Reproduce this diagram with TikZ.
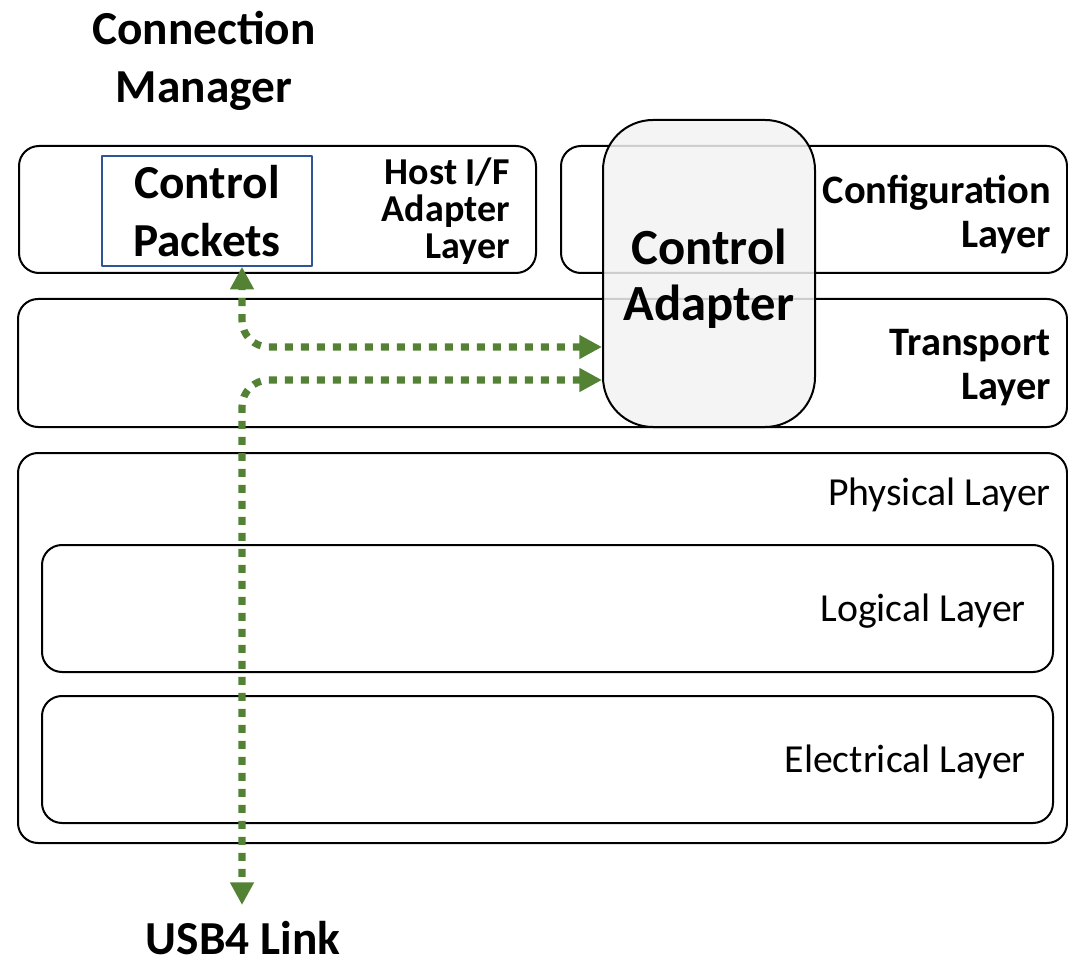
\documentclass[tikz,border=0pt]{standalone}
\usepackage{fontspec}
\setmainfont{Carlito}
\usetikzlibrary{arrows.meta}

\definecolor{linkgreen}{HTML}{548235}
\definecolor{pktblue}{HTML}{2F5597}
\definecolor{adaptergray}{HTML}{F2F2F2}

\begin{document}
\begin{tikzpicture}[
    x=0.75pt, y=-0.75pt,  % one unit = one pixel of the reference
    line join=round,
    every node/.style={
      inner sep=0pt
    },
    layerbox/.style={draw, line width=1.5pt, rounded corners=15pt},
    layerlbl/.style={font=\fontsize{29.8}{33}\selectfont, anchor=base east},
    boldlbl/.style={font=\fontsize{30.3}{33}\selectfont\bfseries, align=right, anchor=east},
    biglbl/.style={font=\fontsize{35.5}{43}\selectfont\bfseries, align=center},
    linkarrow/.style={draw=linkgreen, line width=5.4pt, line cap=butt,
      dash pattern=on 6pt off 6pt, rounded corners=20pt,
      {Triangle[width=17pt,length=17pt]}-{Triangle[width=17pt,length=17pt]}}
]
\useasboundingbox (0,0) rectangle (1068,966);

% top row
\draw[layerbox] (19,146) rectangle (536,273);
\node[draw=pktblue, line width=1.1pt, minimum width={210*0.75pt}, minimum height={110*0.75pt},
      biglbl] (cpk) at (207,211) {Control\\Packets};
\node[boldlbl, font=\fontsize{28.5}{27.75}\selectfont\bfseries] (hostif) at (510,211) {Host I/F\\Adapter\\Layer};

\draw[layerbox] (561,146) rectangle (1067,273);
\node[boldlbl] (config) at (1051,214) {Configuration\\Layer};

% transport
\draw[layerbox] (18,299) rectangle (1067,427);
\node[boldlbl] (transport) at (1051,368) {Transport\\Layer};

% physical with its two sublayers
\draw[layerbox] (18,453) rectangle (1067,843);
\node[layerlbl] (phys) at (1051,505) {Physical Layer};
\foreach \y/\name/\txt in {545/logic/Logical Layer, 696/elec/Electrical Layer} {
  \draw[layerbox] (42,\y) rectangle (1053,\y+127);
  \node[layerlbl] (\name) at (1026,\y+76) {\txt};
}

% control adapter on top of the layers
\node[draw, line width=1.5pt, fill=adaptergray, fill opacity=0.85, text opacity=1,
      rounded corners=37.5pt, minimum width={212*0.75pt}, minimum height={307*0.75pt}]
      (ca) at (709,273.5) {};
\node[font=\fontsize{38}{42}\selectfont\bfseries, align=center] (calbl) at (709,279) {Control\\Adapter};

% outside labels
\node[biglbl, font=\fontsize{35.5}{43.5}\selectfont\bfseries] (cm) at (204,61) {Connection\\Manager};
\node[biglbl] (usb) at (243,938) {USB4 Link};
\coordinate (link) at (242,905);

% control packet paths
\draw[linkarrow] (ca.west |- 0,347) -| (242,0 |- cpk.south);
\draw[linkarrow] (ca.west |- 0,380) -| (link);
\end{tikzpicture}
\end{document}
